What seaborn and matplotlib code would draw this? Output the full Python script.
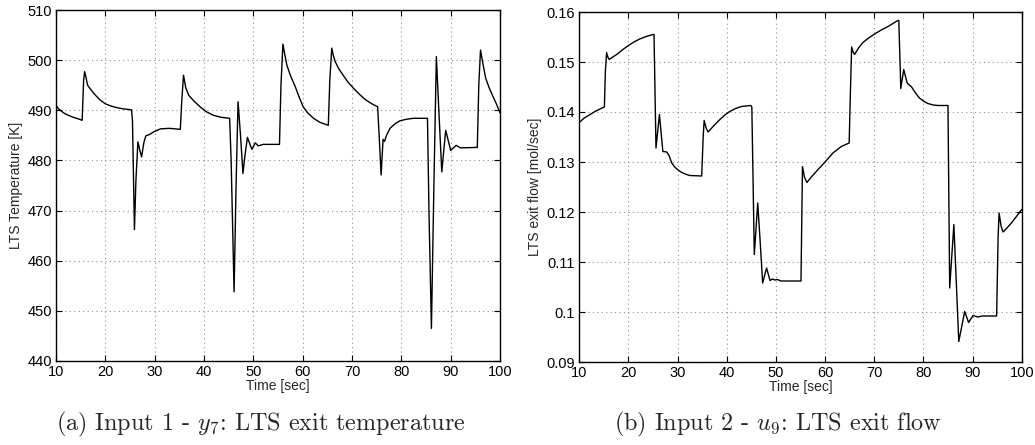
import numpy as np
import pandas as pd
import matplotlib
matplotlib.use("Agg")
import matplotlib.pyplot as plt
import seaborn as sns

# ---------------- data ----------------
time_a = [10.0, 10.5, 11.5, 12.5, 13.5, 14.5, 15.3, 15.6, 15.8, 16.1, 16.4, 17.0, 18.0, 19.0,
          20.0, 21.0, 22.0, 23.5, 25.3, 25.5, 25.9, 26.2, 26.6, 27.0, 27.35, 27.8, 28.2, 29.0,
          29.8, 31.2, 33.0, 35.2, 35.5, 35.85, 36.3, 36.9, 38.0, 39.2, 40.5, 41.9, 43.5, 45.2,
          45.5, 46.1, 46.5, 46.9, 47.4, 47.9, 48.3, 48.8, 49.7, 50.4, 51.0, 52.0, 55.3, 55.6,
          56.0, 56.4, 56.8, 57.5, 58.5, 59.3, 60.1, 61.0, 62.2, 63.5, 65.2, 65.5, 65.9, 66.2,
          66.6, 67.3, 68.2, 69.2, 70.3, 71.5, 72.6, 74.0, 75.2, 75.5, 75.9, 76.3, 76.6, 77.0,
          77.7, 78.7, 79.7, 81.0, 82.4, 85.3, 85.6, 86.1, 86.6, 87.1, 87.6, 88.2, 88.6, 89.0,
          90.0, 91.1, 92.0, 95.4, 95.7, 96.05, 96.5, 97.1, 97.8, 98.6, 99.3, 100.0]
temp_a = [491.0, 490.3, 489.5, 489.0, 488.6, 488.3, 488.0, 496.0, 497.7, 496.5, 495.0, 494.2, 493.0, 492.0,
          491.3, 490.9, 490.6, 490.3, 490.1, 488.0, 466.2, 476.0, 483.7, 482.0, 480.7, 483.5, 484.9, 485.2,
          485.7, 486.3, 486.4, 486.2, 492.0, 497.0, 494.5, 493.0, 491.8, 490.7, 489.7, 489.0, 488.6, 488.4,
          480.0, 453.8, 475.0, 491.7, 485.0, 477.4, 481.0, 484.6, 482.2, 483.5, 482.9, 483.2, 483.2, 495.0,
          503.2, 501.0, 499.0, 497.0, 494.7, 492.6, 490.7, 489.5, 488.4, 487.6, 487.0, 496.0, 502.4, 501.0,
          499.7, 498.3, 497.0, 495.6, 494.4, 493.2, 492.2, 491.3, 490.7, 485.0, 477.1, 484.2, 483.8, 485.0,
          486.4, 487.3, 487.9, 488.2, 488.4, 488.4, 470.0, 446.5, 475.0, 500.7, 490.0, 477.7, 482.0, 486.0,
          482.0, 483.0, 482.5, 482.6, 495.0, 502.0, 499.5, 496.4, 494.5, 492.7, 491.2, 489.5]

time_b = [10.0, 11.0, 12.2, 13.2, 14.2, 15.1, 15.3, 15.55, 15.8, 16.1, 16.8, 17.6, 19.0, 20.3,
          21.3, 22.3, 23.6, 25.0, 25.2, 25.6, 26.3, 27.0, 27.8, 28.3, 28.8, 29.5, 30.5, 31.5,
          32.5, 34.9, 35.2, 35.4, 35.8, 36.2, 37.3, 38.6, 39.6, 40.6, 41.8, 43.0, 44.9, 45.1,
          45.6, 46.3, 46.8, 47.3, 48.1, 48.8, 49.3, 49.8, 50.3, 51.0, 55.1, 55.4, 55.8, 56.3,
          57.2, 58.2, 59.9, 61.6, 63.3, 64.9, 65.1, 65.4, 65.7, 66.0, 66.8, 67.7, 69.0, 70.4,
          71.6, 72.8, 73.8, 74.8, 75.0, 75.4, 76.0, 76.7, 77.6, 78.4, 79.2, 80.0, 80.9, 82.0,
          83.0, 85.0, 85.35, 86.2, 87.2, 88.4, 89.2, 90.1, 91.1, 92.0, 94.9, 95.2, 95.4, 95.8,
          96.2, 97.0, 97.9, 99.0, 100.0]
flow_b = [0.1379, 0.1388, 0.1395, 0.1401, 0.1406, 0.1410, 0.1480, 0.1519, 0.1510, 0.1505, 0.1510, 0.1515, 0.1526, 0.1535,
          0.1541, 0.1546, 0.1551, 0.1555, 0.1555, 0.1328, 0.1395, 0.1321, 0.1320, 0.1312, 0.1298, 0.1289, 0.1281, 0.1276,
          0.1273, 0.1272, 0.1350, 0.1383, 0.1368, 0.1360, 0.1372, 0.1385, 0.1394, 0.1401, 0.1407, 0.1411, 0.1413, 0.1410,
          0.1115, 0.1218, 0.1140, 0.1058, 0.1088, 0.1063, 0.1066, 0.1064, 0.1065, 0.1062, 0.1062, 0.1291, 0.1270, 0.1259,
          0.1270, 0.1281, 0.1299, 0.1318, 0.1331, 0.1338, 0.1420, 0.1530, 0.1520, 0.1515, 0.1528, 0.1539, 0.1549, 0.1558,
          0.1565, 0.1571, 0.1577, 0.1583, 0.1583, 0.1447, 0.1485, 0.1458, 0.1450, 0.1438, 0.1428, 0.1422, 0.1417, 0.1414,
          0.1413, 0.1413, 0.1048, 0.1175, 0.0941, 0.1001, 0.0979, 0.0993, 0.0990, 0.0992, 0.0992, 0.1150, 0.1198, 0.1172,
          0.1160, 0.1168, 0.1178, 0.1192, 0.1205]

xticks = [10, 20, 30, 40, 50, 60, 70, 80, 90, 100]
yticks_a = [440, 450, 460, 470, 480, 490, 500, 510]
yticks_b = [0.09, 0.1, 0.11, 0.12, 0.13, 0.14, 0.15, 0.16]
ytick_labels_b = ["0.09", "0.1", "0.11", "0.12", "0.13", "0.14", "0.15", "0.16"]

xlabel = "Time [sec]"
ylabel_a = "LTS Temperature [K]"
ylabel_b = "LTS exit flow [mol/sec]"
caption_a = r"(a) Input 1 - $y_7$: LTS exit temperature"
caption_b = r"(b) Input 2 - $u_9$: LTS exit flow"

# ---------------- style ----------------
sns.set_style("white")
plt.rcParams["font.family"] = ["Liberation Sans", "DejaVu Sans"]
plt.rcParams["mathtext.fontset"] = "cm"

fig = plt.figure(figsize=(10.35, 4.45), dpi=100)
ax_a = fig.add_axes([56 / 1035, 1 - 361 / 445, 444 / 1035, 351 / 445])
ax_b = fig.add_axes([579.3 / 1035, 1 - 362 / 445, 442.4 / 1035, 350 / 445])

df_a = pd.DataFrame({"t": time_a, "v": temp_a})
df_b = pd.DataFrame({"t": time_b, "v": flow_b})

for ax, df, yt, ylim, ylab in [
    (ax_a, df_a, yticks_a, (440, 510), ylabel_a),
    (ax_b, df_b, yticks_b, (0.09, 0.16), ylabel_b),
]:
    sns.lineplot(data=df, x="t", y="v", ax=ax, color="black", lw=1.0,
                 estimator=None, sort=False)
    ax.set_xlim(10, 100)
    ax.set_ylim(*ylim)
    ax.set_xticks(xticks)
    ax.set_yticks(yt)
    ax.grid(True, color="#8f8f8f", linestyle=(0, (1, 3)), linewidth=0.8)
    ax.tick_params(direction="in", bottom=True, left=True, top=True, right=True,
                   length=4, width=0.8, labelsize=10.5, pad=3, colors="black")
    for sp in ax.spines.values():
        sp.set_visible(True)
        sp.set_color("black")
        sp.set_linewidth(1.0)
    ax.set_xlabel(xlabel, fontsize=10, labelpad=0)
    ax.set_ylabel(ylab, fontsize=10, labelpad=3)

ax_a.set_yticklabels([str(v) for v in yticks_a])
ax_b.set_yticklabels(ytick_labels_b)
ax_a.set_xticklabels([str(v) for v in xticks])
ax_b.set_xticklabels([str(v) for v in xticks])

fig.text(261 / 1035, 1 - 424 / 445, caption_a, ha="center", va="center",
         fontsize=17.4, family=["cmr10", "DejaVu Serif"])
fig.text(778 / 1035, 1 - 424 / 445, caption_b, ha="center", va="center",
         fontsize=17.4, family=["cmr10", "DejaVu Serif"])

fig.savefig("out.png", dpi=100)
